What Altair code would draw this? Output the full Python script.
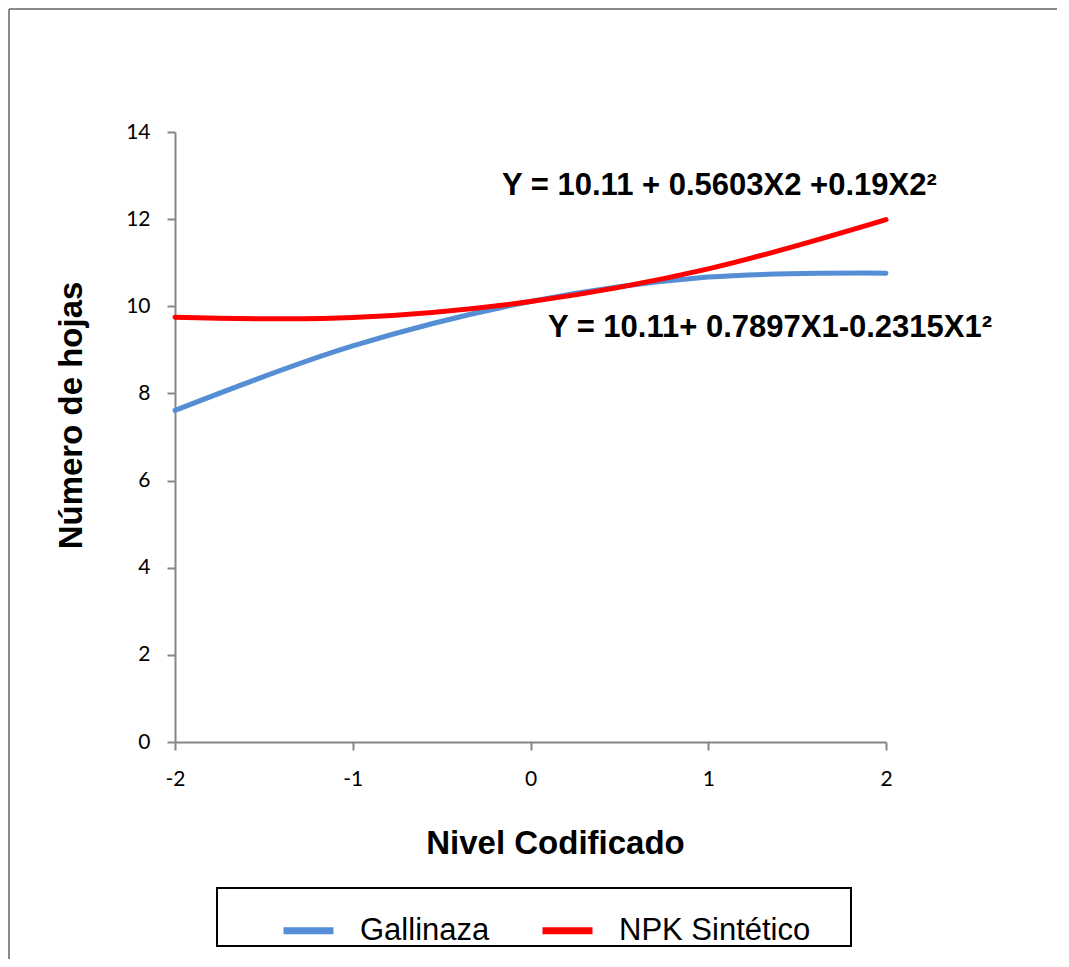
import altair as alt
import pandas as pd

# ---- data ----
niveles = [-2, -1, 0, 1, 2]
gallinaza = [7.61, 9.09, 10.11, 10.67, 10.76]
npk = [9.75, 9.74, 10.11, 10.86, 11.99]
series_names = ["Gallinaza", "NPK Sintético"]
series_colors = ["#558ED5", "#FF0000"]

eq_texts = ["Y = 10.11 + 0.5603X2 +0.19X2²", "Y = 10.11+ 0.7897X1-0.2315X1²"]
eq_x = [-0.16, 0.098]
eq_y = [12.55, 9.30]

y_ticks = [0, 2, 4, 6, 8, 10, 12, 14]
x_ticks = [-2, -1, 0, 1, 2]

rows = []
for x, v in zip(niveles, gallinaza):
    rows.append({"nivel": x, "valor": v, "serie": series_names[0]})
for x, v in zip(niveles, npk):
    rows.append({"nivel": x, "valor": v, "serie": series_names[1]})
df = pd.DataFrame(rows)
eq_df = pd.DataFrame({"x": eq_x, "y": eq_y, "txt": eq_texts})

W, H = 711, 610
AXIS_GRAY = "#868686"
FRAME_GRAY = "#898989"
PAD = {"left": 167, "top": 124, "right": 175, "bottom": 217}

x_scale = alt.Scale(domain=[-2, 2], nice=False, zero=False)
y_scale = alt.Scale(domain=[0, 14], nice=False)

one = alt.Data(values=[{"a": 1}])

# outer chart frame (only top and left edges are inside the picture)
frame_top = alt.Chart(one).mark_rule(stroke=FRAME_GRAY, strokeWidth=2, clip=False).encode(
    x=alt.value(-166), x2=alt.value(W + PAD["right"] - 4), y=alt.value(-123))
frame_left = alt.Chart(one).mark_rule(stroke=FRAME_GRAY, strokeWidth=2, clip=False).encode(
    x=alt.value(-166), y=alt.value(-123), y2=alt.value(H + PAD["bottom"]))

# legend box
legend_box = alt.Chart(one).mark_rect(fill="#FFFFFF", stroke="#000000", strokeWidth=2,
                                      clip=False).encode(
    x=alt.value(42), x2=alt.value(676), y=alt.value(756), y2=alt.value(814))

lines = alt.Chart(df).mark_line(interpolate="cardinal", strokeWidth=5, strokeCap="round").encode(
    x=alt.X("nivel:Q", scale=x_scale,
            axis=alt.Axis(values=x_ticks, title="Nivel Codificado", titleX=380, titleY=101,
                          titleBaseline="middle", titleAlign="center", titleAnchor="start",
                          labelPadding=18, labelFlush=False,
                          labelExpr="datum.value < 0 ? '-' + abs(datum.value) : '' + datum.value")),
    y=alt.Y("valor:Q", scale=y_scale,
            axis=alt.Axis(values=y_ticks, title="Número de hojas", titleX=-104, titleY=283,
                          titleAngle=270, titleBaseline="middle", titleAlign="center",
                          titleAnchor="start", labelPadding=17)),
    color=alt.Color("serie:N", scale=alt.Scale(domain=series_names, range=series_colors),
                    legend=alt.Legend(title=None, orient="none", legendX=42, legendY=756,
                                      direction="horizontal", symbolType="stroke",
                                      symbolSize=2500, symbolStrokeWidth=7,
                                      symbolOffset=49, labelOffset=23, columnPadding=-14,
                                      labelFont="Liberation Sans", labelFontSize=31,
                                      labelLimit=500,
                                      labelColor="#000000", padding=14)),
)

eqs = alt.Chart(eq_df).mark_text(align="left", baseline="alphabetic", font="Liberation Sans",
                                 fontSize=31, fontWeight="bold", color="#000000").encode(
    x=alt.X("x:Q", scale=x_scale), y=alt.Y("y:Q", scale=y_scale), text="txt:N")

chart = alt.layer(frame_top, frame_left, legend_box, lines, eqs).properties(
    width=W, height=H,
    autosize=alt.AutoSizeParams(type="none"),
    padding=PAD,
).configure_view(stroke=None).configure_axis(
    grid=False, domainColor=AXIS_GRAY, domainWidth=2, tickColor=AXIS_GRAY, tickWidth=2,
    tickSize=8, labelFont="Lato", labelFontSize=21, labelColor="#000000",
    titleFont="Liberation Sans", titleFontSize=33, titleFontWeight="bold", titleColor="#000000",
)

chart.save("out.html", embed_options={"renderer": "svg", "actions": False})
